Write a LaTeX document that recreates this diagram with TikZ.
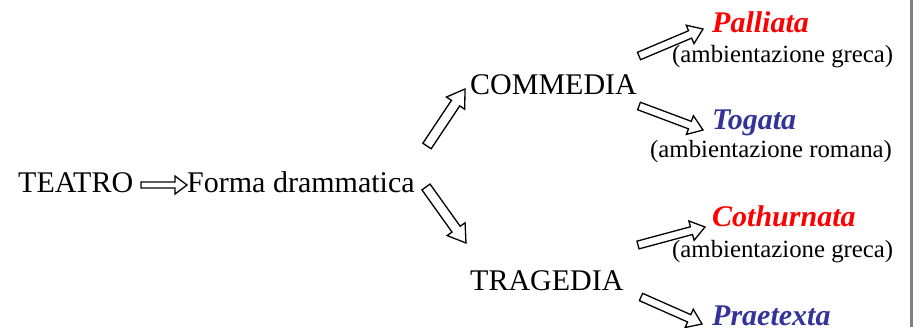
\documentclass[tikz,border=0pt]{standalone}
\usepackage{fontspec}
\setmainfont{Liberation Serif}
\usetikzlibrary{calc}

\definecolor{genred}{RGB}{255,0,0}
\definecolor{genblue}{RGB}{51,51,153}
\definecolor{edge}{RGB}{128,128,128}

\tikzset{
  big/.style={anchor=base west, inner sep=0pt, font=\fontsize{30}{35}\selectfont},
  genre/.style={anchor=base west, inner sep=0pt, font=\fontsize{30}{35}\selectfont\bfseries\itshape},
  note/.style={anchor=base west, inner sep=0pt, font=\fontsize{24.8}{29}\selectfont},
  arrowline/.style={draw=black, line width=1.3pt, fill=white, line join=miter}
}

% hollow block arrow: from, to, half shaft width, half head width, head length
\newcommand\blockarrow[5]{%
  \coordinate (ba-h) at ($(#2)!#5!(#1)$);
  \draw[arrowline] ($(#1)!#3!90:(#2)$) -- ($(ba-h)!#3!-90:(#1)$)
    -- ($(ba-h)!#4!-90:(#1)$) -- (#2) -- ($(ba-h)!#4!90:(#1)$)
    -- ($(ba-h)!#3!90:(#1)$) -- ($(#1)!#3!-90:(#2)$) -- cycle;
}

\begin{document}
\begin{tikzpicture}[x=1pt,y=-1pt]
  \useasboundingbox (0,0) rectangle (913,327);
  \clip (0,0) rectangle (913,327);
  \fill[white] (0,0) rectangle (913,327);
  \fill[edge] (910,0) rectangle (913,327);

  % arrow ends
  \coordinate (t1) at (141,185);  \coordinate (h1) at (187,185);
  \coordinate (t2) at (427,146);  \coordinate (h2) at (465,89);
  \coordinate (t3) at (426,187);  \coordinate (h3) at (466,243);
  \coordinate (t4) at (639,56);   \coordinate (h4) at (703,29);
  \coordinate (t5) at (639,106);  \coordinate (h5) at (703,130);
  \coordinate (t6) at (638,245);  \coordinate (h6) at (705,227);
  \coordinate (t7) at (641,297);  \coordinate (h7) at (702,324);

  % arrows first, so the notes lie over their shafts
  \blockarrow{t1}{h1}{3pt}{9pt}{12pt}
  \blockarrow{t2}{h2}{5pt}{11pt}{17pt}
  \blockarrow{t3}{h3}{5pt}{11pt}{17pt}
  \blockarrow{t4}{h4}{4pt}{10pt}{14pt}
  \blockarrow{t5}{h5}{4pt}{10pt}{14pt}
  \blockarrow{t6}{h6}{4pt}{10pt}{14pt}
  \blockarrow{t7}{h7}{4pt}{10pt}{14pt}

  % terms
  \node[big] (teatro) at (18,192) {TEATRO};
  \node[big] (forma) at (187,192) {Forma drammatica};
  \node[big] (commedia) at (470,94) {COMMEDIA};
  \node[big] (tragedia) at (470,290) {TRAGEDIA};

  \node[genre, text=genred] (palliata) at (712,32) {Palliata};
  \node[note] (pallnote) at (672,62) {(ambientazione greca)};
  \node[genre, text=genblue] (togata) at (712,129) {Togata};
  \node[note] (toganote) at (650,157) {(ambientazione romana)};
  \node[genre, text=genred] (cothurnata) at (712,226) {Cothurnata};
  \node[note] (cothnote) at (672,257) {(ambientazione greca)};
  \node[genre, text=genblue] (praetexta) at (712,325) {Praetexta};
\end{tikzpicture}
\end{document}
